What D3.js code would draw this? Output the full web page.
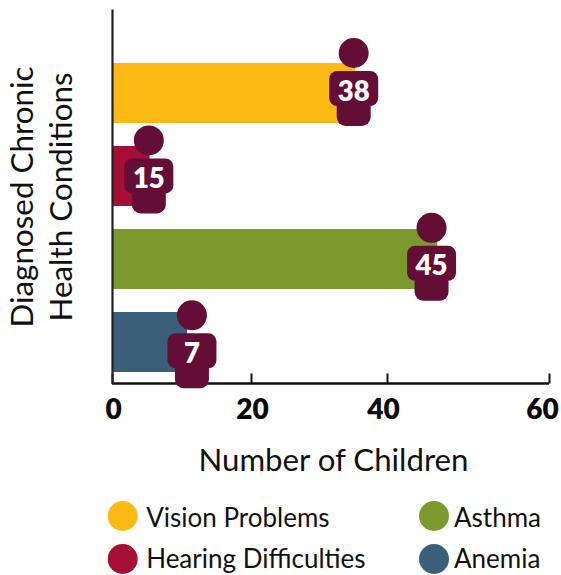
<!DOCTYPE html>
<html><head><meta charset="utf-8">
<script src="https://cdn.jsdelivr.net/npm/d3@7/dist/d3.min.js"></script>
<style>html,body{margin:0;padding:0;background:#fff}svg{display:block}text{font-family:Lato,sans-serif}</style>
</head><body><svg id="c" width="561" height="575"></svg>
<script>
const categories = ["Vision Problems","Hearing Difficulties","Asthma","Anemia"];
const barValues = [35.3, 5.4, 46.2, 10.8];
const iconPositions = [35.1, 5.3, 45.5, 11.5];
const labels = ["38","15","45","7"];
const colors = ["#FDB913","#A50E35","#7A9A2E","#3A5F7A"];
const tickValues = [0,20,40,60];
const tickStops = [112,251,387,549];
const tickNudge = [1,1,-4,-7];
const legendCols = [0,0,1,1];
const legendRows = [0,1,0,1];
const iconColor = "#640D37";

const svg = d3.select("#c");
const x = d3.scaleLinear().domain(tickValues).range(tickStops);
const y = d3.scaleBand().domain(categories).range([51.5,383.5]).paddingInner(23/83).paddingOuter(11.5/83);
const iconY = d3.scalePoint().domain(categories).range([53,315.3]);
const lx = d3.scaleOrdinal().domain([0,1]).range([122.7,434]);
const ly = d3.scaleOrdinal().domain([0,1]).range([516,559]);
const lty = d3.scaleOrdinal().domain([0,1]).range([527,567.5]);

svg.selectAll("rect.bar").data(categories).join("rect").attr("class","bar")
  .attr("x",x(0)).attr("y",d=>y(d)).attr("height",y.bandwidth())
  .attr("width",(d,i)=>x(barValues[i])-x(0)).attr("fill",(d,i)=>colors[i]);

// axes
const ax = svg.append("g").attr("transform","translate(0,383.5)")
  .call(d3.axisBottom(x).tickValues(tickValues).tickSize(-10).tickPadding(0).tickFormat(d3.format("d")));
ax.select(".domain").attr("stroke","#111").attr("stroke-width",2.4).attr("d",`M${x(0)},0H${x(60)}`);
ax.selectAll(".tick line").attr("stroke","#111").attr("stroke-width",2);
ax.selectAll(".tick text").attr("y",0).attr("dy",35.5).attr("x",(d,i)=>tickNudge[i])
  .style("font-family","Lato,sans-serif").style("font-size","28px").style("font-weight",800).attr("fill","#0a0a0a");
const ay = svg.append("g").attr("transform",`translate(${x(0)},0)`)
  .call(d3.axisLeft(d3.scaleLinear().domain([0,1]).range([383.5,9])).tickValues([]).tickSize(0));
ay.select(".domain").attr("stroke","#222").attr("stroke-width",2.2);

// icons
const icon = svg.selectAll("g.icon").data(categories).join("g").attr("class","icon")
  .attr("transform",(d,i)=>`translate(${x(iconPositions[i])},${iconY(d)})`).attr("fill",iconColor);
icon.append("circle").attr("r",15);
icon.append("rect").attr("x",-24.5).attr("y",18).attr("width",49).attr("height",35).attr("rx",8);
icon.append("rect").attr("x",-17).attr("y",35).attr("width",34).attr("height",38).attr("rx",9);
icon.append("text").attr("text-anchor","middle").attr("y",47.5).attr("fill","#fff")
  .style("font-size","27.5px").style("font-weight",800).text((d,i)=>labels[i]);

// titles
svg.append("text").attr("x",333.5).attr("y",471).attr("text-anchor","middle")
  .style("font-size","31.2px").attr("fill","#111").text("Number of Children");
const yt = svg.append("g").attr("transform","translate(0,197) rotate(-90)");
yt.append("text").attr("y",33).attr("text-anchor","middle").style("font-size","31.4px").attr("fill","#111").text("Diagnosed Chronic");
yt.append("text").attr("y",72).attr("text-anchor","middle").style("font-size","31.4px").attr("fill","#111").text("Health Conditions");

// legend
const lg = svg.selectAll("g.lg").data(categories).join("g").attr("class","lg");
lg.append("circle").attr("cx",(d,i)=>lx(legendCols[i])).attr("cy",(d,i)=>ly(legendRows[i])).attr("r",15).attr("fill",(d,i)=>colors[i]);
lg.append("text").attr("x",(d,i)=>lx(legendCols[i])+(legendCols[i]?20:23.5)).attr("y",(d,i)=>lty(legendRows[i]))
  .style("font-size","26px").attr("fill","#111").text(d=>d);
</script></body></html>
